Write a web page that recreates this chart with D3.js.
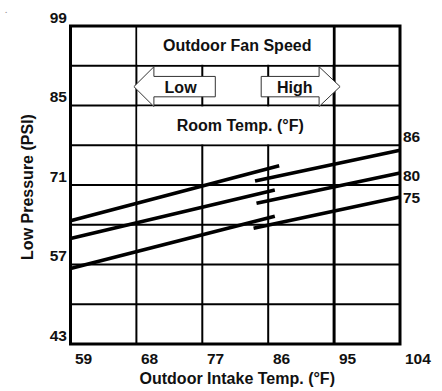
<!DOCTYPE html>
<html>
<head>
<meta charset="utf-8">
<script src="https://cdn.jsdelivr.net/npm/d3@7"></script>
<style>
  html, body { margin: 0; padding: 0; background: #fff; }
  svg { display: block; }
  text { font-family: "Liberation Sans", Arial, Helvetica, sans-serif; font-weight: bold; fill: #111; }
</style>
</head>
<body>
<svg id="chart" width="442" height="391"></svg>
<script>
// ---- data ----
const xTicks = [59, 68, 77, 86, 95, 104];           // Outdoor intake temp (°F)
const yGrid = [99, 92, 85, 78, 71, 64, 57, 50, 43];  // grid rows (PSI)
const yTickLabels = [99, 85, 71, 57, 43];
const roomTemps = ["86", "80", "75"];                // Room temp (°F) curves
// Low fan speed segments
const lowStartTemp = [59, 59, 59];
const lowStartPSI = [64.7, 61.6, 56.3];
const lowEndTemp = [87.5, 86.9, 86.9];
const lowEndPSI = [74.4, 70.1, 65.5];
// High fan speed segments
const highStartTemp = [84.2, 84.4, 84.0];
const highStartPSI = [71.7, 67.8, 63.4];
const highEndTemp = [104, 104, 104];
const highEndPSI = [77.1, 73.1, 68.9];
const texts = {
  title: "Outdoor Fan Speed", low: "Low", high: "High", room: "Room Temp. (°F)",
  xTitle: "Outdoor Intake Temp. (°F)", yTitle: "Low Pressure (PSI)"
};

// ---- layout ----
const svg = d3.select("#chart");
const x = d3.scaleLinear().domain([59, 104]).range([70.5, 400]);
const y = d3.scaleLinear().domain([43, 99]).range([344, 26]);
const FS = 16, TS = 15.5;

// stray mark in the corner of the original
svg.append("text").attr("x", 5).attr("y", 13).style("font-size", "8px").style("fill", "#999").text(".");

// grid: vertical
const g = svg.append("g");
g.selectAll("line.v").data(xTicks.slice(1, -1)).join("line")
  .attr("x1", d => x(d)).attr("x2", d => x(d))
  .attr("y1", y(99)).attr("y2", y(43))
  .attr("stroke", "#000").attr("stroke-width", d => d === 95 ? 3 : 2);
// grid: horizontal
g.selectAll("line.h").data(yGrid.slice(1, -1)).join("line")
  .attr("x1", x(59)).attr("x2", x(104))
  .attr("y1", d => y(d)).attr("y2", d => y(d))
  .attr("stroke", "#000").attr("stroke-width", 2);

// merged cells for the header texts (rows 99-92 and 85-78 between 68 and 95)
[[99, 92], [85, 78]].forEach(([a, b]) => {
  g.append("rect")
    .attr("x", x(68) + 1).attr("y", y(a) + 1)
    .attr("width", x(95) - x(68) - 2.5).attr("height", y(b) - y(a) - 2)
    .attr("fill", "#fff");
});

// frame
svg.append("rect")
  .attr("x", x(59)).attr("y", y(99))
  .attr("width", x(104) - x(59)).attr("height", y(43) - y(99))
  .attr("fill", "none").attr("stroke", "#000").attr("stroke-width", 3);

// arrows in row 92-85
const yTop = y(92) + 1, yBot = y(85) + 1, yMid = (yTop + yBot) / 2;
const bodyHalf = 10.2;
const lowTip = x(68) - 2.5, lowBase = x(68) + 17.5, lowEnd = x(77) + 13;
const highStart = x(86) - 7, highBase = x(95) - 15, highTip = x(95) + 6;
const lowPts = [[lowTip, yMid], [lowBase, yTop], [lowBase, yMid - bodyHalf], [lowEnd, yMid - bodyHalf],
  [lowEnd, yMid + bodyHalf], [lowBase, yMid + bodyHalf], [lowBase, yBot]];
const highPts = [[highTip, yMid], [highBase, yTop], [highBase, yMid - bodyHalf], [highStart, yMid - bodyHalf],
  [highStart, yMid + bodyHalf], [highBase, yMid + bodyHalf], [highBase, yBot]];
[lowPts, highPts].forEach(p => {
  svg.append("polygon").attr("points", p.map(d => d.join(",")).join(" "))
    .attr("fill", "#fff").attr("stroke", "#333").attr("stroke-width", 1);
});
svg.append("text").attr("x", (lowBase + lowEnd) / 2 - 4).attr("y", yMid + 6.5)
  .attr("text-anchor", "middle").style("font-size", FS + "px").text(texts.low);
svg.append("text").attr("x", (highStart + highBase) / 2 + 4.5).attr("y", yMid + 6.5)
  .attr("text-anchor", "middle").style("font-size", FS + "px").text(texts.high);

// header texts
const cx = (x(68) + x(95)) / 2;
svg.append("text").attr("x", cx + 2).attr("y", (y(99) + y(92)) / 2 + 5.5)
  .attr("text-anchor", "middle").style("font-size", FS + "px").text(texts.title);
svg.append("text").attr("x", cx + 5).attr("y", (y(85) + y(78)) / 2 + 5.5)
  .attr("text-anchor", "middle").style("font-size", FS + "px").text(texts.room);

// data lines
const line = d3.line().x(d => x(d[0])).y(d => y(d[1]));
roomTemps.forEach((t, i) => {
  svg.append("path")
    .attr("d", line([[lowStartTemp[i], lowStartPSI[i]], [lowEndTemp[i], lowEndPSI[i]]]))
    .attr("stroke", "#000").attr("stroke-width", 3.6).attr("fill", "none");
  svg.append("path")
    .attr("d", line([[highStartTemp[i], highStartPSI[i]], [highEndTemp[i], highEndPSI[i]]]))
    .attr("stroke", "#000").attr("stroke-width", 3.6).attr("fill", "none");
});
const labelDy = [-13.5, 2.5, 1];
svg.selectAll("text.rt").data(roomTemps).join("text")
  .attr("class", "rt")
  .attr("x", x(104) + 3)
  .attr("y", (d, i) => y(highEndPSI[i]) + labelDy[i] + 5.5)
  .style("font-size", TS + "px").text(d => d);

// x axis labels
svg.selectAll("text.xt").data(xTicks).join("text")
  .attr("class", "xt")
  .attr("x", d => Math.round(x(d) + 4.5))
  .attr("y", 363.5)
  .style("font-size", TS + "px").text(d => d);

// y axis labels
svg.selectAll("text.yt").data(yTickLabels).join("text")
  .attr("class", "yt")
  .attr("x", 67)
  .attr("y", d => Math.round(y(d) - 3.5))
  .attr("text-anchor", "end")
  .style("font-size", TS + "px").text(d => d);

// axis titles
svg.append("text").attr("x", (x(59) + x(104)) / 2 + 2).attr("y", 384)
  .attr("text-anchor", "middle").style("font-size", FS + "px").text(texts.xTitle);
svg.append("text").attr("transform", `translate(33,${(y(43) + y(99)) / 2 + 2}) rotate(-90)`)
  .attr("text-anchor", "middle").style("font-size", FS + "px").text(texts.yTitle);
</script>
</body>
</html>
